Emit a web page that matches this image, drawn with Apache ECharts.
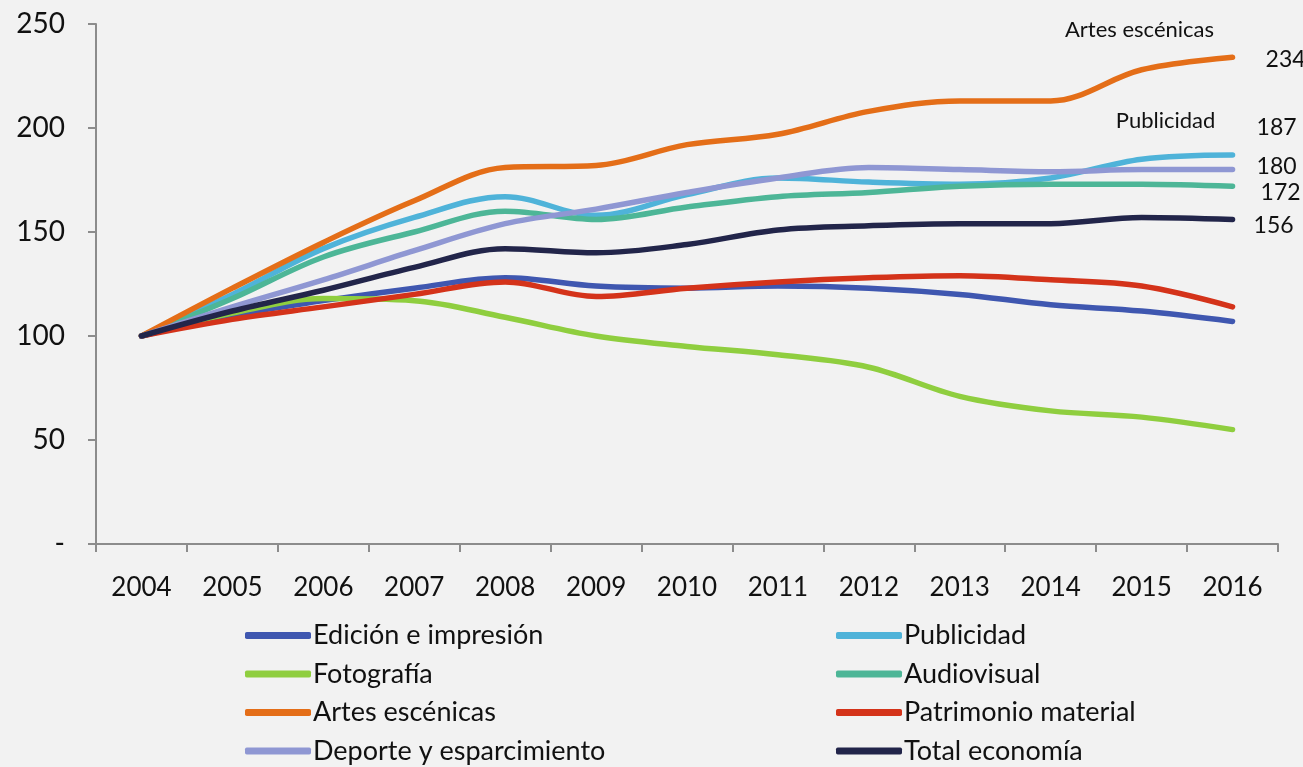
<!DOCTYPE html>
<html><head><meta charset="utf-8">
<script src="https://cdn.jsdelivr.net/npm/echarts@6/dist/echarts.min.js"></script>
<style>html,body{margin:0;padding:0;background:#f2f2f2}#c{width:1303px;height:767px}</style>
</head><body><div id="c"></div>
<script>
const years = ['2004','2005','2006','2007','2008','2009','2010','2011','2012','2013','2014','2015','2016'];
const edicion     = [100,110,117,123,128,124,123,124,123,120,115,112,107];
const publicidad  = [100,120,142,157,167,158,168,176,174,173,176,185,187];
const fotografia  = [100,111,118,117,109,100,95,91,85,71,64,61,55];
const audiovisual = [100,118,138,150,160,156,162,167,169,172,173,173,172];
const artes       = [100,123,145,165,181,182,192,197,208,213,213,228,234];
const patrimonio  = [100,108,114,120,126,119,123,126,128,129,127,124,114];
const deporte     = [100,114,127,141,154,161,169,176,181,180,179,180,180];
const total       = [100,112,122,133,142,140,144,151,153,154,154,157,156];
const yTicks = ['-','50','100','150','200','250'];

const FONT = 'Lato';
function s(name, data, color, endOff, note, noteOff) {
  const o = {
    name, type:'line', data, smooth:0.35, showSymbol:false, symbol:'none',
    lineStyle:{width:5.5, color, cap:'round', join:'round'}, itemStyle:{color},
    emphasis:{disabled:true}
  };
  if (endOff) {
    o.endLabel = {show:true, distance:0, offset:endOff, fontFamily:FONT, fontSize:23, color:'#111',
      formatter: p => String(p.value)};
  }
  if (note) {
    o.markPoint = {symbol:'circle', symbolSize:0, silent:true,
      data:[{coord:[years.length-1, data[data.length-1]], label:{show:true, position:'inside', formatter:note,
        offset:noteOff, fontFamily:FONT, fontSize:22, color:'#111'}}]};
  }
  return o;
}
const legendText = {fontFamily:FONT, fontSize:27, color:'#111', lineHeight:24, padding:[0,0,0,-3]};
const chart = echarts.init(document.getElementById('c'));
chart.setOption({
  backgroundColor:'#f2f2f2',
  animation:false,
  grid:{left:96, right:25, top:24, bottom:223, containLabel:false},
  xAxis:{type:'category', data:years, boundaryGap:true,
    axisLine:{lineStyle:{color:'#8c8c8c', width:2}},
    axisTick:{show:true, length:8, lineStyle:{color:'#8c8c8c', width:2}},
    axisLabel:{fontFamily:FONT, fontSize:26, color:'#111', margin:31}},
  yAxis:{type:'value', min:0, max:250, interval:50,
    axisLine:{show:true, lineStyle:{color:'#8c8c8c', width:2}},
    axisTick:{show:true, length:8, lineStyle:{color:'#8c8c8c', width:2}},
    splitLine:{show:false},
    axisLabel:{fontFamily:FONT, fontSize:28, color:'#111', margin:31,
      formatter: v => yTicks[v/50]}},
  legend:[
    {data:['Edición e impresión','Fotografía','Artes escénicas','Deporte y esparcimiento'],
     orient:'vertical', left:240, top:617, height:160, itemWidth:66, itemHeight:7, itemGap:11.5, icon:'roundRect',
     textStyle:legendText},
    {data:['Publicidad','Audiovisual','Patrimonio material','Total economía'],
     orient:'vertical', left:831, top:617, height:160, itemWidth:66, itemHeight:7, itemGap:11.5, icon:'roundRect',
     textStyle:legendText}
  ],
  series:[
    s('Edición e impresión', edicion, '#3f57b0'),
    s('Publicidad', publicidad, '#4fb3d9', [24,-27], 'Publicidad', [-67,-34]),
    s('Fotografía', fotografia, '#8fce3f'),
    s('Audiovisual', audiovisual, '#4db697', [28,6]),
    s('Artes escénicas', artes, '#e46e18', [33,2], 'Artes escénicas', [-93,-27]),
    s('Patrimonio material', patrimonio, '#d4331a'),
    s('Deporte y esparcimiento', deporte, '#8f97d3', [24,-3]),
    s('Total economía', total, '#22254a', [21,6])
  ]
});
</script></body></html>
